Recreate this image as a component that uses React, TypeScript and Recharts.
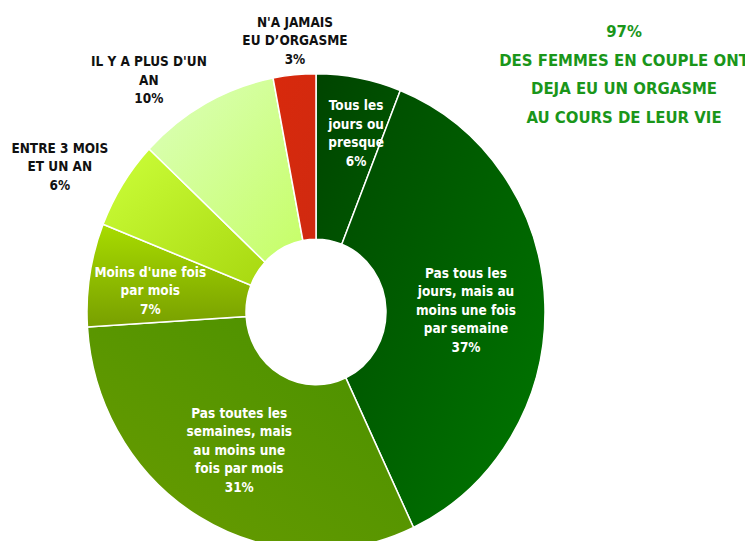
import React from "react";
import { PieChart, Pie, Cell } from "recharts";

const categories = [
  "Tous les jours ou presque",
  "Pas tous les jours, mais au moins une fois par semaine",
  "Pas toutes les semaines, mais au moins une fois par mois",
  "Moins d'une fois par mois",
  "ENTRE 3 MOIS ET UN AN",
  "IL Y A PLUS D'UN AN",
  "N'A JAMAIS EU D'ORGASME",
];
const values = [6, 37, 31, 7, 6, 10, 3];
const labelLines = [
  ["Tous les", "jours ou", "presque"],
  ["Pas tous les", "jours, mais au", "moins une fois", "par semaine"],
  ["Pas toutes les", "semaines, mais", "au moins une", "fois par mois"],
  ["Moins d'une fois", "par mois"],
  ["ENTRE 3 MOIS", "ET UN AN"],
  ["IL Y A PLUS D'UN", "AN"],
  ["N'A JAMAIS", "EU D\u2019ORGASME"],
];
const titleLines = ["97%", "DES FEMMES EN COUPLE ONT", "DEJA EU UN ORGASME", "AU COURS DE LEUR VIE"];

const data = categories.map((name, i) => ({ name, value: values[i] }));

// gradient per slice: [x1, y1, x2, y2, start, end]
const gradients: [string, string, string, string, string, string][] = [
  ["0", "0", "1", "1", "#004400", "#005a00"],
  ["0", "0", "1", "1", "#004a00", "#007800"],
  ["1", "0", "0", "1", "#489000", "#6a9c00"],
  ["0", "0", "0", "1", "#a8dc00", "#789f00"],
  ["0", "0", "1", "1", "#ccff3a", "#a8d810"],
  ["0", "0", "1", "1", "#dcffbc", "#c6fe66"],
  ["0", "0", "1", "1", "#d8290c", "#d02a10"],
];
const inside = [true, true, true, true, false, false, false];
// label placement: distance from centre and angular nudge (degrees, clockwise)
const labelRadius = [177, 150, 153, 167, 292, 279, 262];
const labelNudge = [2.3, 1, -0.5, -1.7, -3.7, -8, 0.8];

const FONT = "'DejaVu Sans Condensed', 'DejaVu Sans', sans-serif";
const RADIAN = Math.PI / 180;
const STRETCH = 1.04;

const renderLabel = (props: any) => {
  const { cx, cy, midAngle, index, value } = props;
  const r = labelRadius[index];
  const theta = (90 - midAngle + labelNudge[index]) * RADIAN;
  const x = cx + r * Math.sin(theta);
  const y = cy - r * Math.cos(theta);
  const lines = [...labelLines[index], `${value}%`];
  const lh = 17.8;
  const y0 = y - ((lines.length - 1) * lh) / 2;
  return (
    <text
      x={x}
      y={y0}
      textAnchor="middle"
      dominantBaseline="central"
      fill={inside[index] ? "#ffffff" : "#111111"}
      fontFamily={FONT}
      fontSize={13.5}
      fontWeight="bold"
    >
      {lines.map((l, i) => (
        <tspan key={i} x={x} y={y0 + i * lh}>
          {l}
        </tspan>
      ))}
    </text>
  );
};

export default function App() {
  return (
    <div style={{ position: "relative", width: 753, height: 549, margin: -8, overflow: "hidden", background: "#fff" }}>
      <div style={{ transform: `scaleY(${STRETCH})`, transformOrigin: "316px 312px" }}>
        <PieChart width={753} height={549} margin={{ top: 0, right: 0, bottom: 0, left: 0 }}>
          <defs>
            {gradients.map((g, i) => (
              <linearGradient key={i} id={`g${i}`} x1={g[0]} y1={g[1]} x2={g[2]} y2={g[3]}>
                <stop offset="0%" stopColor={g[4]} />
                <stop offset="100%" stopColor={g[5]} />
              </linearGradient>
            ))}
          </defs>
          <Pie
            data={data}
            dataKey="value"
            nameKey="name"
            cx={316}
            cy={312}
            innerRadius={70}
            outerRadius={229}
            startAngle={90}
            endAngle={-270}
            stroke="#ffffff"
            strokeWidth={1.5}
            label={renderLabel}
            labelLine={false}
            isAnimationActive={false}
          >
            {data.map((d, i) => (
              <Cell key={d.name} fill={`url(#g${i})`} />
            ))}
          </Pie>
        </PieChart>
      </div>
      <div
        style={{
          position: "absolute",
          left: 494,
          top: 18,
          width: 260,
          textAlign: "center",
          color: "#1a961a",
          fontFamily: FONT,
          fontSize: 16.6,
          fontWeight: "bold",
          lineHeight: "28.5px",
        }}
      >
        {titleLines.map((t) => (
          <div key={t}>{t}</div>
        ))}
      </div>
    </div>
  );
}
